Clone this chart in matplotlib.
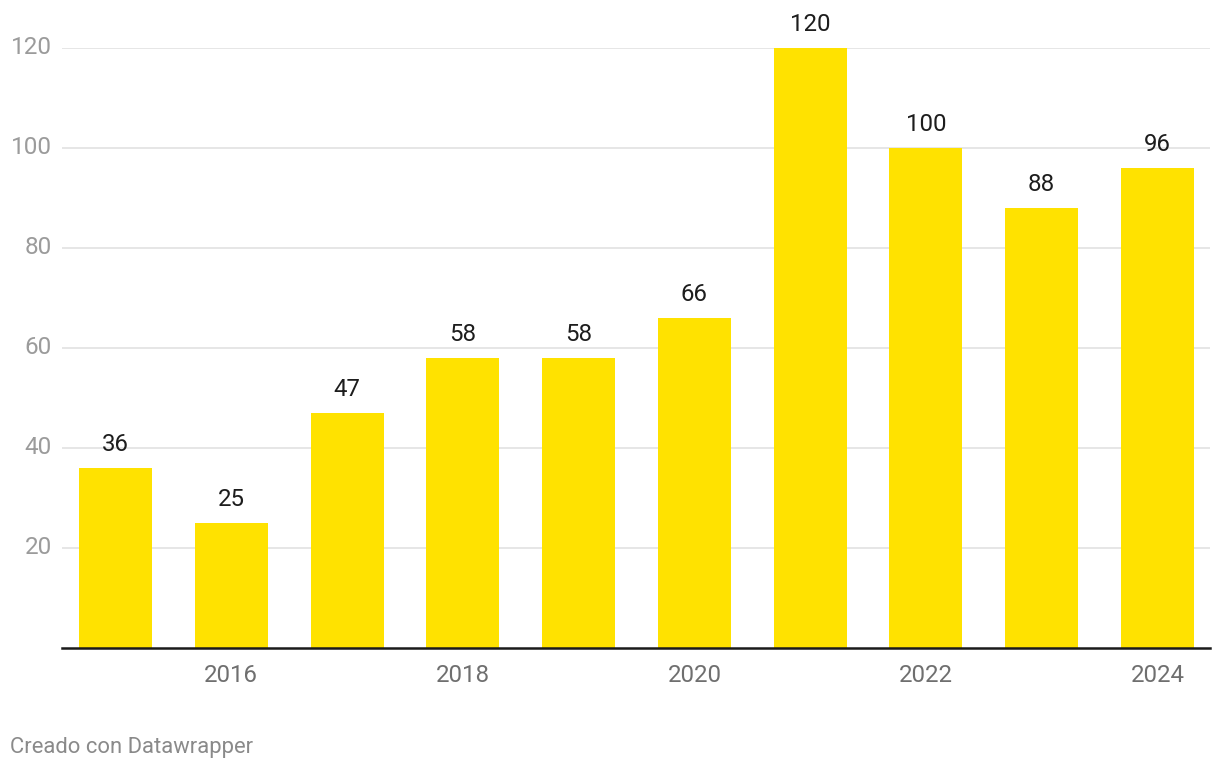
import matplotlib
matplotlib.use("Agg")
import matplotlib.pyplot as plt

years = [2015, 2016, 2017, 2018, 2019, 2020, 2021, 2022, 2023, 2024]
values = [36, 25, 47, 58, 58, 66, 120, 100, 88, 96]
y_ticks = [20, 40, 60, 80, 100, 120]
x_ticks = [2016, 2018, 2020, 2022, 2024]
credit = "Creado con Datawrapper"

plt.rcParams['font.family'] = ['Roboto', 'DejaVu Sans']

W, H = 1220, 770
fig = plt.figure(figsize=(W / 100, H / 100), dpi=100)
ax = fig.add_axes([62 / W, 1 - 648 / H, (1210 - 62) / W, (648 - 48) / H])

ax.bar(years, values, width=0.63, color='#FFE200', zorder=2)
for x, v in zip(years, values):
    ax.annotate(str(v), (x, v), xytext=(0, 8.3), textcoords='offset points',
                ha='center', va='bottom', fontsize=17.3, color='#1d1d1d',
                annotation_clip=False)

ax.set_xlim(2014 - 0.315 + 1 - 17 / 115.78, 2024 + 0.315 + 16 / 115.78)
ax.set_ylim(0, 120)
ax.set_yticks(y_ticks)
ax.set_xticks(x_ticks)
ax.set_xticklabels([str(t) for t in x_ticks])
ax.set_yticklabels([str(t) for t in y_ticks])
ax.grid(axis='y', color='#e2e2e2', linewidth=1.2, zorder=0)
ax.set_axisbelow(True)
for s in ['top', 'right', 'left']:
    ax.spines[s].set_visible(False)
ax.spines['bottom'].set_color('#1a1a1a')
ax.spines['bottom'].set_linewidth(1.8)
ax.spines['bottom'].set_zorder(3)
ax.tick_params(axis='y', length=0, pad=7.2, labelsize=17.5, labelcolor='#9b9b9b')
ax.tick_params(axis='x', length=0, pad=11.5, labelsize=17.3, labelcolor='#6f6f6f')
for lbl in ax.get_yticklabels():
    lbl.set_verticalalignment('center')

fig.text(10 / W, 1 - 748 / H, credit, fontsize=15.8, color='#8a8a8a',
         ha='left', va='center')

fig.savefig('out.png', dpi=100)
